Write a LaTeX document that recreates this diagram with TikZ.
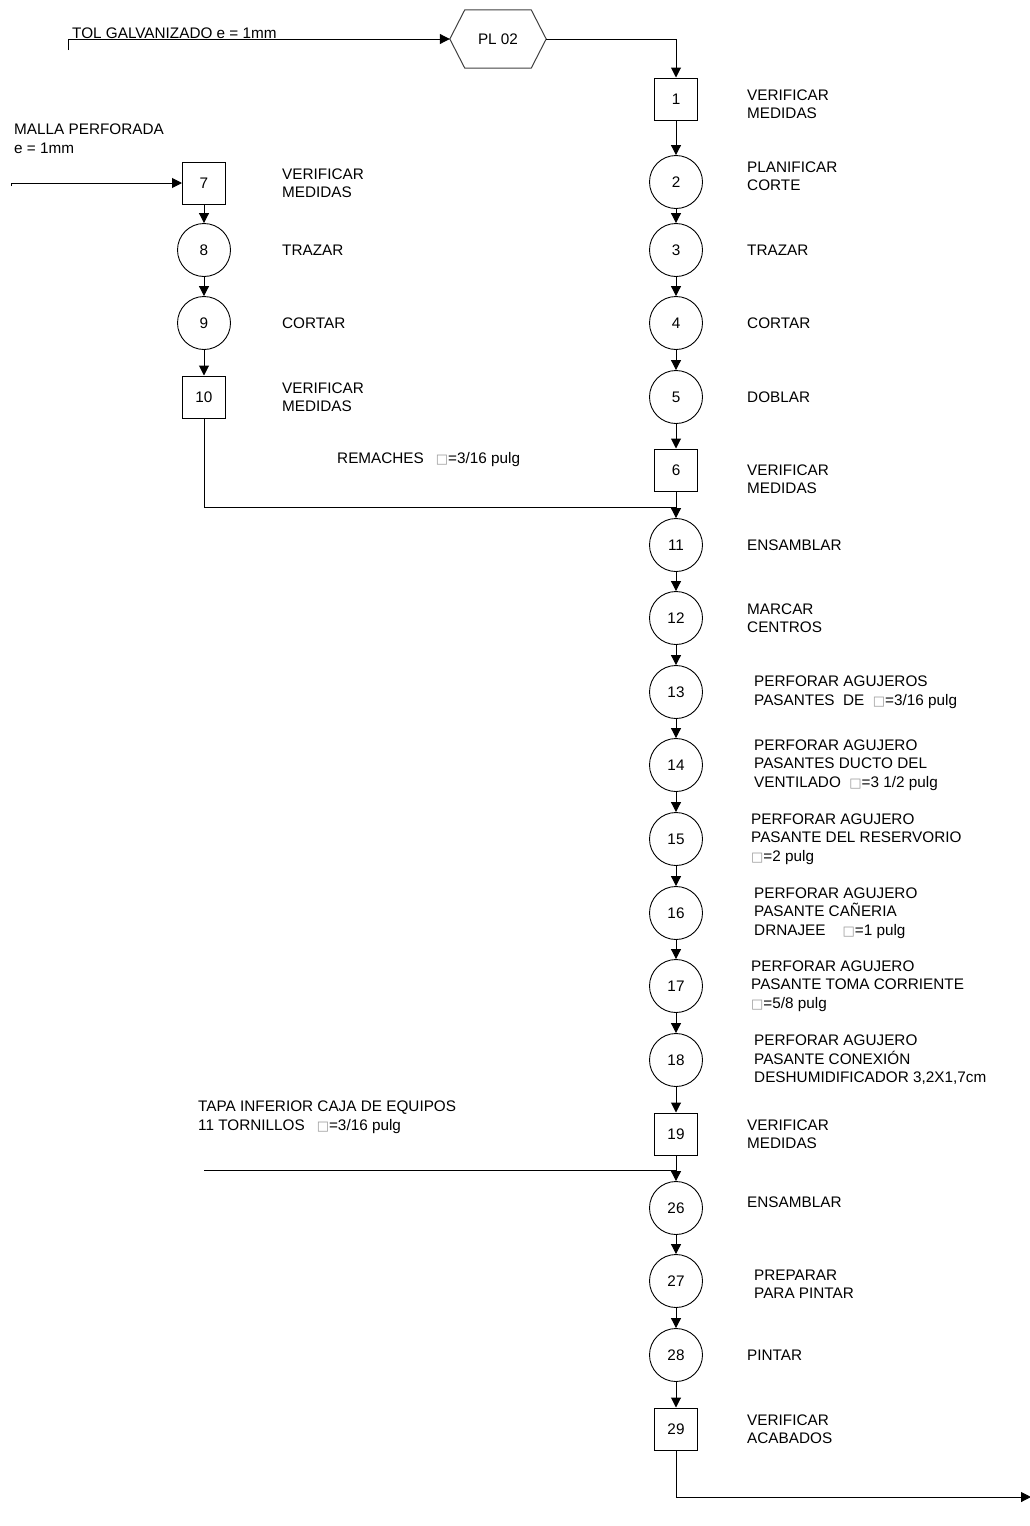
\documentclass[tikz,border=0pt]{standalone}
\usepackage{fontspec}
\setmainfont{Liberation Sans}
\newfontfamily\dejavu{DejaVu Sans}
\usetikzlibrary{arrows.meta,calc}
\newcommand\sqg{{\color{black!40}\dejavu\fontsize{13}{18}\selectfont □}}
\begin{document}
\begin{tikzpicture}[x=1pt,y=-1pt,
  every node/.style={font=\fontsize{15.3}{18.5}\selectfont},
  opbox/.style={draw,line width=1pt,minimum width=43pt,minimum height=42pt,inner sep=0pt},
  opcirc/.style={draw,circle,line width=0.9pt,minimum size=53pt,inner sep=0pt},
  lbl/.style={anchor=west,align=left,inner sep=0pt},
  flow/.style={line width=1pt},
  arr/.style={flow,-{Triangle[length=10pt,width=10pt]}}]
\useasboundingbox (0,0) rectangle (1029,1526);
% hexagon PL 02
\node[minimum width=96pt,minimum height=58pt,inner sep=0pt] (pl) at (498,39) {PL 02};
\draw[line width=1pt,draw=black!75] (pl.west) -- ($(pl.north west)+(15,0)$) -- ($(pl.north east)+(-15,0)$) -- (pl.east) -- ($(pl.south east)+(-15,0)$) -- ($(pl.south west)+(15,0)$) -- cycle;
% main column
\node[opbox]  (n1)  at (676,99)   {1};
\node[opcirc] (n2)  at (676,182)  {2};
\node[opcirc] (n3)  at (676,250)  {3};
\node[opcirc] (n4)  at (676,323)  {4};
\node[opcirc] (n5)  at (676,397)  {5};
\node[opbox]  (n6)  at (676,470)  {6};
\node[opcirc] (n11) at (676,545)  {11};
\node[opcirc] (n12) at (676,618)  {12};
\node[opcirc] (n13) at (676,692)  {13};
\node[opcirc] (n14) at (676,765)  {14};
\node[opcirc] (n15) at (676,839)  {15};
\node[opcirc] (n16) at (676,913)  {16};
\node[opcirc] (n17) at (676,986)  {17};
\node[opcirc] (n18) at (676,1060) {18};
\node[opbox]  (n19) at (676,1134) {19};
\node[opcirc] (n26) at (676,1208) {26};
\node[opcirc] (n27) at (676,1281) {27};
\node[opcirc] (n28) at (676,1355) {28};
\node[opbox]  (n29) at (676,1429) {29};
% left column
\node[opbox]  (n7)  at (204,183)  {7};
\node[opcirc] (n8)  at (204,250)  {8};
\node[opcirc] (n9)  at (204,323)  {9};
\node[opbox]  (n10) at (204,397)  {10};
% coordinates
\coordinate (tolstart) at (68,50);
\coordinate (malstart) at (11,186);
\coordinate (j1) at (676,507);
\coordinate (tapastart) at (204,1170);
\coordinate (j2) at (676,1170);
\coordinate (endpt) at (1031,1497);
% connectors
\draw[arr] (tolstart) |- (pl.west);
\draw[arr] (pl.east) -| (n1.north);
\draw[arr] (malstart) |- (n7.west);
\draw[arr] (n1) -- (n2);
\draw[arr] (n2) -- (n3);
\draw[arr] (n3) -- (n4);
\draw[arr] (n4) -- (n5);
\draw[arr] (n5) -- (n6);
\draw[arr] (n6) -- (n11);
\draw[flow] (n10.south) |- (j1);
\draw[arr] (n11) -- (n12);
\draw[arr] (n12) -- (n13);
\draw[arr] (n13) -- (n14);
\draw[arr] (n14) -- (n15);
\draw[arr] (n15) -- (n16);
\draw[arr] (n16) -- (n17);
\draw[arr] (n17) -- (n18);
\draw[arr] (n18) -- (n19);
\draw[arr] (n19) -- (n26);
\draw[flow] (tapastart) -- (j2);
\draw[arr] (n26) -- (n27);
\draw[arr] (n27) -- (n28);
\draw[arr] (n28) -- (n29);
\draw[arr] (n29.south) |- (endpt);
\draw[arr] (n7) -- (n8);
\draw[arr] (n8) -- (n9);
\draw[arr] (n9) -- (n10);
% labels
\node[anchor=base west,inner sep=0pt] (ttol) at (72,38) {TOL GALVANIZADO e = 1mm};
\node[lbl,anchor=north west] (tmal) at (14,124) {MALLA PERFORADA\\e = 1mm};
\node[lbl] (t7)  at (282,183) {VERIFICAR\\MEDIDAS};
\node[lbl] (t8)  at (282,250) {TRAZAR};
\node[lbl] (t9)  at (282,323) {CORTAR};
\node[lbl] (t10) at (282,397) {VERIFICAR\\MEDIDAS};
\node[lbl] (trem) at (337,460) {REMACHES\hspace{12pt}\sqg=3/16 pulg};
\node[lbl] (t1)  at (747,104) {VERIFICAR\\MEDIDAS};
\node[lbl] (t2)  at (747,176) {PLANIFICAR\\CORTE};
\node[lbl] (t3)  at (747,250) {TRAZAR};
\node[lbl] (t4)  at (747,323) {CORTAR};
\node[lbl] (t5)  at (747,397) {DOBLAR};
\node[lbl] (t6)  at (747,479) {VERIFICAR\\MEDIDAS};
\node[lbl] (t11) at (747,545) {ENSAMBLAR};
\node[lbl] (t12) at (747,618) {MARCAR\\CENTROS};
\node[lbl] (t13) at (754,692) {PERFORAR AGUJEROS\\PASANTES\ \ DE\ \ \sqg=3/16 pulg};
\node[lbl] (t14) at (754,765) {PERFORAR AGUJERO\\PASANTES DUCTO DEL\\VENTILADO\ \ \sqg=3 1/2 pulg};
\node[lbl] (t15) at (751,839) {PERFORAR AGUJERO\\PASANTE DEL RESERVORIO\\\sqg=2 pulg};
\node[lbl] (t16) at (754,913) {PERFORAR AGUJERO\\PASANTE CAÑERIA\\DRNAJEE\ \ \ \ \sqg=1 pulg};
\node[lbl] (t17) at (751,986) {PERFORAR AGUJERO\\PASANTE TOMA CORRIENTE\\\sqg=5/8 pulg};
\node[lbl] (t18) at (754,1060) {PERFORAR AGUJERO\\PASANTE CONEXIÓN\\DESHUMIDIFICADOR 3,2X1,7cm};
\node[lbl,anchor=north west] (ttapa) at (198,1101) {TAPA INFERIOR CAJA DE EQUIPOS\\11 TORNILLOS\hspace{12pt}\sqg=3/16 pulg};
\node[lbl] (t19) at (747,1134) {VERIFICAR\\MEDIDAS};
\node[lbl] (t26) at (747,1202) {ENSAMBLAR};
\node[lbl] (t27) at (754,1284) {PREPARAR\\PARA PINTAR};
\node[lbl] (t28) at (747,1355) {PINTAR};
\node[lbl] (t29) at (747,1429) {VERIFICAR\\ACABADOS};
\end{tikzpicture}
\end{document}
